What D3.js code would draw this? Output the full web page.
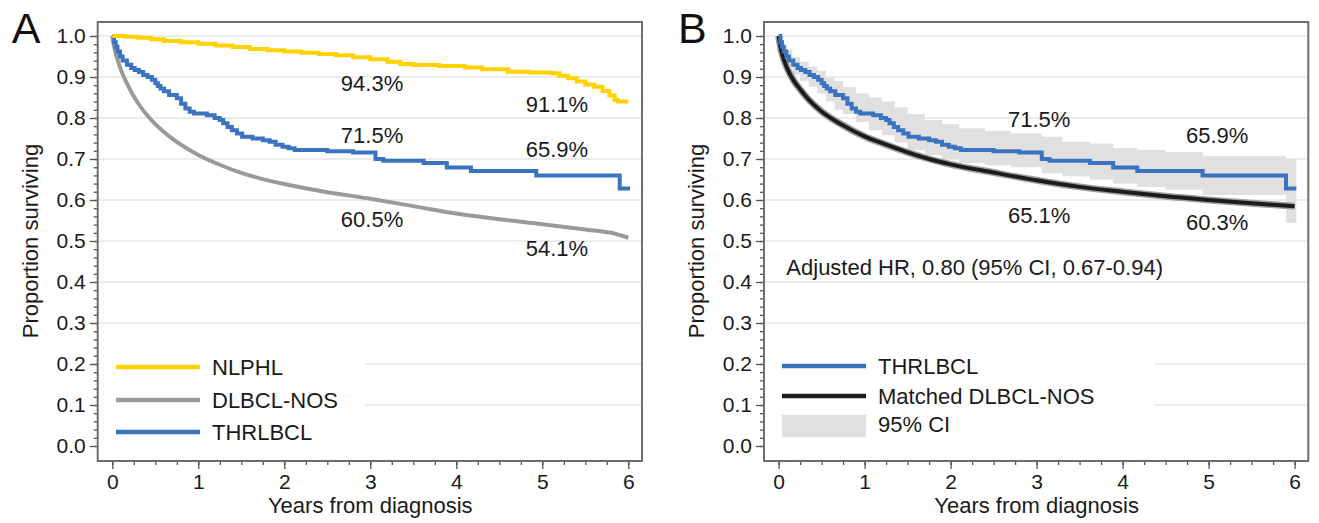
<!DOCTYPE html>
<html>
<head>
<meta charset="utf-8">
<script src="https://cdn.jsdelivr.net/npm/d3@7"></script>
<style>
  body { margin: 0; background: #fff; }
  svg { font-family: "Liberation Sans", Arial, sans-serif; }
</style>
</head>
<body>
<script>
// survival curves: [years, proportion]
const nlphl = [[0,1],[0.15,0.998],[0.3,0.996],[0.45,0.992],[0.6,0.988],[0.8,0.985],[1.0,0.981],[1.2,0.977],[1.4,0.973],[1.6,0.968],[1.8,0.965],[2.0,0.962],[2.2,0.959],[2.4,0.956],[2.6,0.953],[2.8,0.948],[3.0,0.943],[3.2,0.937],[3.35,0.932],[3.5,0.929],[3.8,0.927],[4.1,0.923],[4.3,0.919],[4.6,0.913],[4.85,0.911],[5.1,0.909],[5.2,0.903],[5.3,0.897],[5.4,0.889],[5.5,0.882],[5.6,0.876],[5.7,0.866],[5.78,0.855],[5.84,0.844],[5.88,0.84],[6.0,0.84]];

const dlbcl = [[0,1],[0.02,0.975],[0.05,0.95],[0.1,0.918],[0.2,0.872],[0.3,0.836],[0.4,0.808],[0.5,0.785],[0.6,0.766],[0.75,0.742],[1.0,0.71],[1.25,0.686],[1.5,0.666],[1.75,0.651],[2.0,0.639],[2.5,0.619],[3.0,0.603],[3.5,0.585],[4.0,0.567],[4.5,0.553],[5.0,0.541],[5.5,0.528],[5.8,0.52],[6.0,0.508]];

const thrlbcl = [[0,1],[0.02,0.985],[0.04,0.974],[0.06,0.962],[0.09,0.95],[0.12,0.94],[0.17,0.93],[0.22,0.922],[0.26,0.917],[0.31,0.912],[0.36,0.905],[0.41,0.9],[0.46,0.893],[0.5,0.885],[0.53,0.878],[0.56,0.872],[0.6,0.865],[0.66,0.856],[0.75,0.848],[0.8,0.835],[0.85,0.823],[0.9,0.815],[0.95,0.811],[1.1,0.807],[1.19,0.8],[1.25,0.795],[1.29,0.787],[1.34,0.778],[1.39,0.77],[1.45,0.762],[1.51,0.754],[1.63,0.75],[1.75,0.746],[1.83,0.742],[1.9,0.735],[1.98,0.73],[2.05,0.726],[2.12,0.722],[2.5,0.719],[2.8,0.716],[3.06,0.70],[3.15,0.696],[3.62,0.69],[3.89,0.679],[4.17,0.671],[4.93,0.66],[5.9,0.628],[6.02,0.628]];

const matched = [[0,1],[0.03,0.965],[0.07,0.937],[0.12,0.912],[0.17,0.893],[0.25,0.87],[0.35,0.845],[0.5,0.816],[0.75,0.782],[1.0,0.755],[1.25,0.735],[1.5,0.716],[1.75,0.7],[2.0,0.687],[2.5,0.667],[3.0,0.648],[3.5,0.632],[4.0,0.62],[4.5,0.609],[5.0,0.6],[5.5,0.592],[6.0,0.585]];

// 95% CI for THRLBCL (panel B)
const ciTime  = [0,0.03,0.06,0.1,0.16,0.25,0.35,0.45,0.55,0.65,0.75,0.9,1.05,1.2,1.35,1.5,1.7,1.9,2.1,2.4,2.7,3.06,3.3,3.62,3.89,4.17,4.5,4.93,5.9,6.02];
const ciUpper = [1,0.99,0.978,0.965,0.948,0.937,0.925,0.915,0.9,0.89,0.875,0.86,0.85,0.84,0.826,0.81,0.795,0.785,0.775,0.768,0.762,0.754,0.742,0.738,0.727,0.722,0.717,0.707,0.70,0.70];
const ciLower = [1,0.975,0.95,0.925,0.905,0.89,0.876,0.86,0.84,0.82,0.81,0.79,0.77,0.758,0.74,0.722,0.71,0.70,0.69,0.685,0.68,0.665,0.658,0.65,0.64,0.632,0.625,0.612,0.544,0.544];

const xTicks = [0,1,2,3,4,5,6];
const yTicks = [0,0.1,0.2,0.3,0.4,0.5,0.6,0.7,0.8,0.9,1.0];

const labelsA = [["94.3%",3.02,0.885],["91.1%",5.17,0.834],["71.5%",3.02,0.759],["65.9%",5.17,0.724],["60.5%",3.02,0.554],["54.1%",5.17,0.483]];
const labelsB = [["71.5%",3.03,0.798],["65.9%",5.1,0.757],["65.1%",3.03,0.563],["60.3%",5.1,0.546]];

const legendA = ["NLPHL","DLBCL-NOS","THRLBCL"];
const legendB = ["THRLBCL","Matched DLBCL-NOS","95% CI"];

const W = 1319, H = 523;
const blue = "#3b73c1", yellow = "#ffd200", grey = "#9a9a9a", black = "#1c1c1c";

const svg = d3.select("body").append("svg").attr("width", W).attr("height", H);

const yScale = d3.scaleLinear().domain([0, 1]).range([446, 36]);

const drawPanel = (left, letter, legendRight) => {
  // left = frame left edge
  const x0 = left + 14.6;
  const xScale = d3.scaleLinear().domain([0, 6]).range([x0, x0 + 516]);
  const frameL = left, frameR = left + 544.3, frameT = 22, frameB = 461;
  const g = svg.append("g");

  // gridlines
  g.selectAll(".grid")
    .data(yTicks.filter((d) => d > 0))
    .enter()
    .append("line")
    .attr("x1", frameL).attr("x2", frameR)
    .attr("y1", (d) => yScale(d)).attr("y2", (d) => yScale(d))
    .attr("stroke", "#e6e6e6").attr("stroke-width", 1.3);

  // legend backdrop hides gridlines
  g.append("rect")
    .attr("x", frameL + 1).attr("y", 345)
    .attr("width", legendRight - frameL - 1).attr("height", 105)
    .attr("fill", "#fff");

  // y axis
  const yAxis = d3.axisLeft(yScale).tickValues(yTicks).tickFormat(d3.format(".1f")).tickSize(8).tickPadding(4);
  const ya = g.append("g").attr("transform", "translate(" + frameL + ",0)").call(yAxis);
  const yMinor = d3.axisLeft(yScale).tickValues(d3.range(0, 1.001, 0.02)).tickFormat("").tickSize(4);
  const ym = g.append("g").attr("transform", "translate(" + frameL + ",0)").call(yMinor);

  // x axis
  const xAxis = d3.axisBottom(xScale).tickValues(xTicks).tickFormat(d3.format("d")).tickSize(8).tickPadding(5);
  const xa = g.append("g").attr("transform", "translate(0," + frameB + ")").call(xAxis);
  const xMinor = d3.axisBottom(xScale).tickValues(d3.range(0, 6.001, 0.25)).tickFormat("").tickSize(4);
  const xm = g.append("g").attr("transform", "translate(0," + frameB + ")").call(xMinor);

  [ya, ym, xa, xm].forEach((a) => {
    a.select(".domain").remove();
    a.selectAll("line").attr("stroke", "#555").attr("stroke-width", 1.3);
    a.selectAll("text").attr("fill", "#1a1a1a").style("font-size", "21px");
  });

  // frame
  g.append("rect")
    .attr("x", frameL).attr("y", frameT)
    .attr("width", frameR - frameL).attr("height", frameB - frameT)
    .attr("fill", "none").attr("stroke", "#6e6e6e").attr("stroke-width", 2);

  // titles
  g.append("text")
    .attr("x", (xScale(0) + xScale(6)) / 2).attr("y", 513)
    .attr("text-anchor", "middle").style("font-size", "22px").attr("fill", "#1a1a1a")
    .text("Years from diagnosis");
  g.append("text")
    .attr("transform", "translate(" + (left - 59.7) + "," + yScale(0.5) + ") rotate(-90)")
    .attr("text-anchor", "middle").style("font-size", "22px").attr("fill", "#1a1a1a")
    .text("Proportion surviving");
  g.append("text")
    .attr("x", left - 86).attr("y", 43)
    .style("font-size", "43px").attr("fill", "#111")
    .text(letter);

  return { g, xScale };
};

const lineOf = (xScale, curve) =>
  d3.line().x((d) => xScale(d[0])).y((d) => yScale(d[1])).curve(curve);

// ---- panel A
const A = drawPanel(97.7, "A", 365);
A.g.append("path").datum(dlbcl).attr("d", lineOf(A.xScale, d3.curveMonotoneX))
  .attr("fill", "none").attr("stroke", grey).attr("stroke-width", 4);
A.g.append("path").datum(thrlbcl).attr("d", lineOf(A.xScale, d3.curveStepAfter))
  .attr("fill", "none").attr("stroke", blue).attr("stroke-width", 4);
A.g.append("path").datum(nlphl).attr("d", lineOf(A.xScale, d3.curveStepAfter))
  .attr("fill", "none").attr("stroke", yellow).attr("stroke-width", 4);

A.g.selectAll(".lab").data(labelsA).enter().append("text")
  .attr("x", (d) => A.xScale(d[1])).attr("y", (d) => yScale(d[2]))
  .attr("dy", "0.35em").attr("text-anchor", "middle")
  .style("font-size", "22px").attr("fill", "#1a1a1a").text((d) => d[0]);

const colA = [yellow, grey, blue];
const rowA = [367, 400, 432];
legendA.forEach((name, i) => {
  A.g.append("line").attr("x1", 116).attr("x2", 200).attr("y1", rowA[i]).attr("y2", rowA[i])
    .attr("stroke", colA[i]).attr("stroke-width", 4.5);
  A.g.append("text").attr("x", 212).attr("y", rowA[i]).attr("dy", "0.35em")
    .style("font-size", "22px").attr("fill", "#1a1a1a").text(name);
});

// ---- panel B
const B = drawPanel(764, "B", 1155);
const ci = ciTime.map((t, i) => [t, ciUpper[i], ciLower[i]]);
B.g.append("path").datum(ci)
  .attr("d", d3.area().x((d) => B.xScale(d[0])).y0((d) => yScale(d[2])).y1((d) => yScale(d[1])).curve(d3.curveStepAfter))
  .attr("fill", "#e0e0e0");
B.g.append("path").datum(matched).attr("d", lineOf(B.xScale, d3.curveMonotoneX))
  .attr("fill", "none").attr("stroke", "#a0a0a0").attr("stroke-width", 7);
B.g.append("path").datum(matched).attr("d", lineOf(B.xScale, d3.curveMonotoneX))
  .attr("fill", "none").attr("stroke", black).attr("stroke-width", 4);
B.g.append("path").datum(thrlbcl).attr("d", lineOf(B.xScale, d3.curveStepAfter))
  .attr("fill", "none").attr("stroke", blue).attr("stroke-width", 4);

B.g.selectAll(".lab").data(labelsB).enter().append("text")
  .attr("x", (d) => B.xScale(d[1])).attr("y", (d) => yScale(d[2]))
  .attr("dy", "0.35em").attr("text-anchor", "middle")
  .style("font-size", "22px").attr("fill", "#1a1a1a").text((d) => d[0]);

B.g.append("text")
  .attr("x", B.xScale(0.09)).attr("y", yScale(0.436)).attr("dy", "0.35em")
  .style("font-size", "22px").attr("fill", "#1a1a1a")
  .text("Adjusted HR, 0.80 (95% CI, 0.67-0.94)");

const rowB = [366, 396, 426];
B.g.append("line").attr("x1", 782).attr("x2", 866).attr("y1", rowB[0]).attr("y2", rowB[0])
  .attr("stroke", blue).attr("stroke-width", 4.5);
B.g.append("line").attr("x1", 782).attr("x2", 866).attr("y1", rowB[1]).attr("y2", rowB[1])
  .attr("stroke", black).attr("stroke-width", 4.5);
B.g.append("rect").attr("x", 782).attr("y", rowB[2] - 11).attr("width", 84).attr("height", 22)
  .attr("fill", "#e0e0e0");
legendB.forEach((name, i) => {
  B.g.append("text").attr("x", 878).attr("y", rowB[i] - (i === 2 ? 2 : 0)).attr("dy", "0.35em")
    .style("font-size", "22px").attr("fill", "#1a1a1a").text(name);
});
</script>
</body>
</html>
